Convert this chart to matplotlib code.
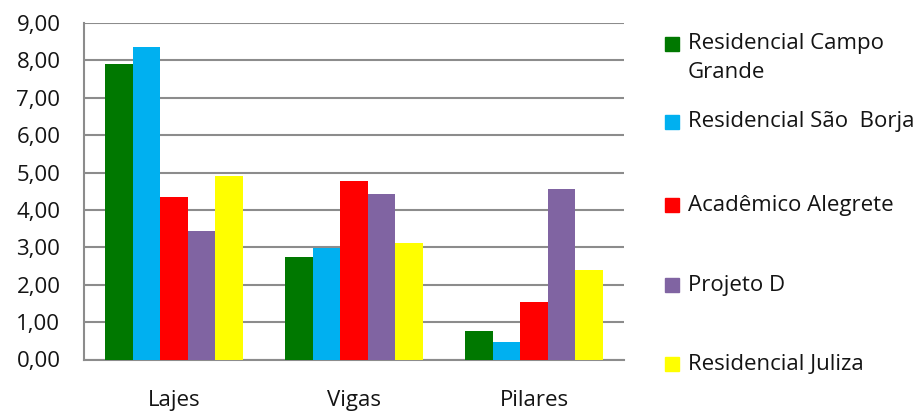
import numpy as np
import matplotlib
matplotlib.use('Agg')
import matplotlib.pyplot as plt
from matplotlib.patches import Rectangle
from matplotlib.ticker import FuncFormatter

categorias = ['Lajes', 'Vigas', 'Pilares']
series = ['Residencial Campo\nGrande', 'Residencial São  Borja', 'Acadêmico Alegrete',
          'Projeto D', 'Residencial Juliza']
campo_grande = [7.90, 2.75, 0.77]
sao_borja = [8.37, 2.98, 0.46]
academico = [4.35, 4.78, 1.53]
projeto_d = [3.45, 4.42, 4.57]
juliza = [4.90, 3.12, 2.39]
valores = [campo_grande, sao_borja, academico, projeto_d, juliza]
cores = ['#007800', '#00b0f0', '#ff0000', '#8064a2', '#ffff00']

plt.rcParams['font.family'] = ['Open Sans', 'DejaVu Sans']
cor_texto = '#141414'

fig = plt.figure(figsize=(9.19, 4.12), dpi=100)
ax = fig.add_axes([84 / 919, 1 - 359.5 / 412, 540 / 919, 336.5 / 412])

x = np.arange(len(categorias))
largura = 0.1533
for i, (vals, cor) in enumerate(zip(valores, cores)):
    ax.bar(x + (i - 2) * largura, vals, largura, color=cor, zorder=3)

ax.set_xlim(-0.5, 2.5)
ax.set_ylim(0, 9)
ax.set_yticks(np.arange(0, 10, 1))
ax.yaxis.set_major_formatter(FuncFormatter(lambda v, p: f'{v:.2f}'.replace('.', ',')))
ax.set_xticks(x)
ax.set_xticklabels(categorias)
ax.tick_params(axis='both', length=0, labelsize=16, colors=cor_texto)
ax.tick_params(axis='y', pad=17)
ax.tick_params(axis='x', pad=22)
ax.grid(axis='y', color='#8c8c8c', lw=1.5, zorder=0)
for lado in ['top', 'right']:
    ax.spines[lado].set_visible(False)
for lado in ['left', 'bottom']:
    ax.spines[lado].set_color('#8c8c8c')
    ax.spines[lado].set_linewidth(1.5)

# legenda manual
ys = [44, 122, 205, 285, 364]
for nome, cor, y in zip(series, cores, ys):
    fig.add_artist(Rectangle((665 / 919, 1 - (y + 7) / 412), 14 / 919, 14 / 412,
                             color=cor, transform=fig.transFigure))
    for k, linha in enumerate(nome.split('\n')):
        fig.text(688 / 919, 1 - (y + 28 * k) / 412, linha, fontsize=16, color=cor_texto,
                 va='center', ha='left')

fig.savefig('out.png', dpi=100)
